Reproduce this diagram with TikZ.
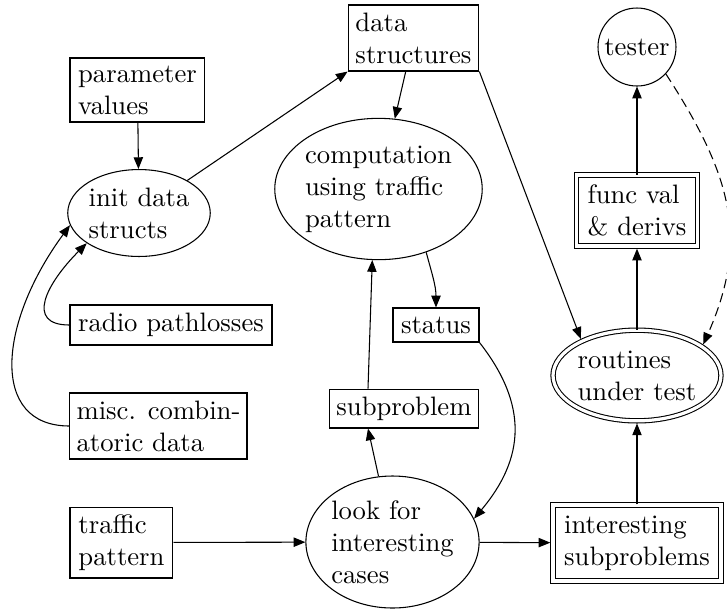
\documentclass[tikz,border=0pt]{standalone}
\usetikzlibrary{arrows.meta,shapes.geometric}
\begin{document}
\begin{tikzpicture}[x=0.375pt,y=-0.375pt,
  every node/.style={font=\normalsize},
  box/.style={draw, rectangle, align=left, inner sep=0pt},
  ell/.style={draw, ellipse, align=left, inner sep=0pt},
  dbl/.style={double, double distance=1.2pt},
  arr/.style={-{Triangle[length=4.4pt,width=3.5pt]}},
  dshort/.style={shorten >=0.8pt}
]
\useasboundingbox (0,0) rectangle (727,610);
% nodes
\node[box, minimum width=50.6pt, minimum height=24pt] (param) at (137.5,90) {parameter\\values};
\node[box, minimum width=49pt, minimum height=24.75pt] (data) at (413.5,38) {data\\structures};
\node[box, minimum width=75.75pt, minimum height=15pt] (radio) at (171,325) {radio pathlosses};
\node[box, minimum width=66.4pt, minimum height=24.75pt] (misc) at (158.5,426) {misc. combin-\\atoric data};
\node[box, minimum width=38.6pt, minimum height=26.6pt] (traffic) at (121.5,542.5) {traffic\\pattern};
\node[box, minimum width=32.25pt, minimum height=12.75pt] (status) at (436,325) {status};
\node[box, minimum width=56pt, minimum height=14.6pt] (sub) at (404,408.5) {subproblem};
\node[box, dbl, minimum width=45.4pt, minimum height=26.6pt] (func) at (637,210.5) {func val\\\& derivs};
\node[box, dbl, minimum width=63pt, minimum height=28.5pt] (inter) at (637,543) {interesting\\subproblems};
\node[ell, minimum width=51.75pt, minimum height=32.6pt] (init) at (139,213) {init data\\structs};
\node[ell, minimum width=75pt, minimum height=53pt] (comp) at (378.5,189) {computation\\using traffic\\pattern};
\node[ell, minimum width=64.5pt, minimum height=49.5pt] (look) at (392.5,542) {look for\\interesting\\cases};
\node[ell, dbl, minimum width=61pt, minimum height=34pt] (rout) at (637,375.5) {routines\\under test};
\node[draw, circle, inner sep=0pt, minimum size=29.25pt] (tester) at (637,47) {tester};
% edges
\draw[arr] (param) -- (init);
\draw[arr] (init.34) -- (data.south west);
\draw[arr] (data) -- (comp);
\draw[arr, dshort] (data.south east) -- (rout.148);
\draw[arr] (comp.-53) to[out=-75,in=90] (status.north);
\draw[arr] ([xshift=-13.5pt]sub.north) -- (comp.-95);
\draw[arr] (look.102.6) -- ([xshift=-13.5pt]sub.south);
\draw[arr] (status.south east) to[out=-52,in=50,looseness=1.15] (look.16);
\draw[arr] (traffic) -- (look);
\draw[arr, dshort] (look) -- (inter);
\draw[arr, dshort] (inter) -- (rout);
\draw[arr, dshort] (rout) -- (func);
\draw[arr] (func) -- (tester);
\draw[arr, dshort, dash pattern=on 3.5pt off 2pt] (tester.-43) to[out=-57,in=66,looseness=1.1] (rout.24);
\draw[arr] (radio.west) .. controls +(-45,0) and +(-40,40) .. (init.-150);
\draw[arr] (misc.west) .. controls +(-80,0) and +(-72,98) .. (init.-170);
\end{tikzpicture}
\end{document}
